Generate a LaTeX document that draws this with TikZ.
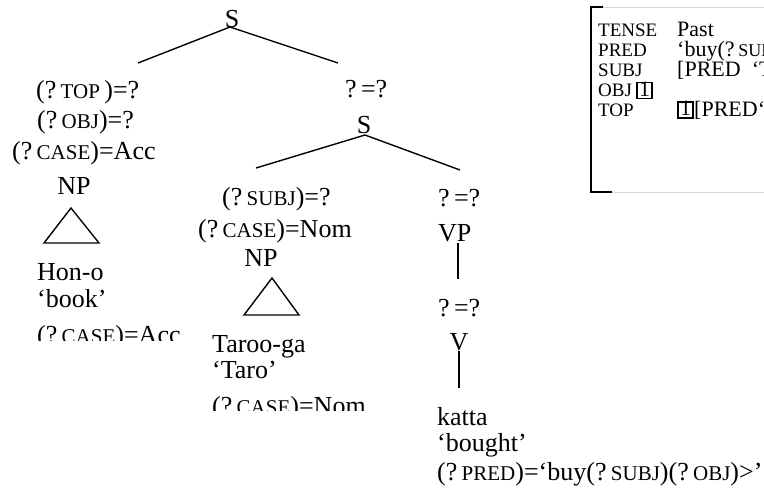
\documentclass[tikz,border=0pt]{standalone}
\usepackage{fontspec}
\setmainfont{Liberation Serif}
% text sizes (1pt = one unit of the drawing)
\newcommand{\treefs}{\fontsize{26}{30}\selectfont}
\newcommand{\sm}[1]{{\fontsize{21}{21}\selectfont #1}}
\newcommand{\avmlab}{\fontsize{19}{20}\selectfont}
\newcommand{\avmval}{\fontsize{22}{20}\selectfont}
\newcommand{\avmsm}[1]{{\fontsize{18}{18}\selectfont #1}}

\begin{document}
\begin{tikzpicture}[x=1pt,y=-1pt,
  lbl/.style={inner sep=0pt, anchor=base west, font=\treefs},
  cat/.style={inner sep=0pt, anchor=base, font=\treefs},
  branch/.style={line width=1.4pt},
  tri/.style={line width=1.4pt, line join=miter},
  alab/.style={inner sep=0pt, anchor=base west, font=\avmlab},
  aval/.style={inner sep=0pt, anchor=base west, font=\avmval},
  tagbox/.style={draw, line width=1.5pt, inner sep=0pt, minimum width=15pt,
                 minimum height=16pt, text height=11pt, text depth=0pt, font=\avmval}]
\useasboundingbox (0,0) rectangle (764,496);

% ---------------- root ----------------
\node[cat] (s1) at (232,27) {S};
\coordinate (s1a) at (230,27);
\coordinate (s1l) at (138,63);
\coordinate (s1r) at (338,63);
\draw[branch] (s1l) -- (s1a) -- (s1r);

% ---------------- fronted object ----------------
\node[lbl] (top)  at (36,98)  {(?\,\sm{TOP}\,)=?};
\node[lbl] (obj)  at (37,128) {(?\,\sm{OBJ})=?};
\node[lbl] (cacc) at (12,159) {(?\,\sm{CASE})=Acc};
\node[cat] (np1)  at (74,194) {NP};
\draw[tri] (71,208) -- (44,243) -- (99,243) -- cycle;
\node[lbl] (hon)  at (37,280) {Hon-o};
\node[lbl] (book) at (37,307) {‘book’};
\begin{scope}
  \clip (0,0) rectangle (200,340);
  \node[lbl] (hcase) at (37,343) {(?\,\sm{CASE})=Acc};
\end{scope}

% ---------------- lower S ----------------
\node[lbl] (eq1) at (345,97) {?\,=?};
\node[cat] (s2)  at (364,133) {S};
\coordinate (s2a) at (365,135);
\coordinate (s2l) at (256,168);
\coordinate (s2r) at (460,170);
\draw[branch] (s2l) -- (s2a) -- (s2r);

% ---------------- subject ----------------
\node[lbl] (subj) at (222,205) {(?\,\sm{SUBJ})=?};
\node[lbl] (cnom) at (198,237) {(?\,\sm{CASE})=Nom};
\node[cat] (np2)  at (261,266) {NP};
\draw[tri] (272,278) -- (244,315) -- (299,315) -- cycle;
\node[lbl] (taroo) at (212,352) {Taroo-ga};
\node[lbl] (taro)  at (212,378) {‘Taro’};
\begin{scope}
  \clip (0,0) rectangle (400,410);
  \node[lbl] (tcase) at (212,414) {(?\,\sm{CASE})=Nom};
\end{scope}

% ---------------- verb phrase ----------------
\node[lbl] (eq2) at (438,206) {?\,=?};
\node[lbl] (vp)  at (438,241) {VP};
\coordinate (vpb) at (458,243);
\coordinate (eq3t) at (458,279);
\draw[branch] (vpb) -- (eq3t);
\node[lbl] (eq3) at (438,316) {?\,=?};
\node[cat] (v)   at (459,350) {V};
\coordinate (vb) at (459,351);
\coordinate (kt) at (459,388);
\draw[branch] (vb) -- (kt);
\node[lbl] (katta)  at (437,425) {katta};
\node[lbl] (bought) at (437,451) {‘bought’};
\node[lbl] (pred)   at (437,480) {(?\,\sm{PRED})=‘buy(?\,\sm{SUBJ})(?\,\sm{OBJ})>’};

% ---------------- f-structure ----------------
\begin{scope}
  \clip (0,0) rectangle (764,496);
  \draw[gray!30, line width=0.8pt] (591,7) rectangle (790,192);
  \draw[line width=1.6pt] (603,7) -- (591,7) -- (591,192) -- (612,192);
  \node[alab] (ftense) at (598,36)  {TENSE};
  \node[aval] (fpast)  at (677,36)  {Past};
  \node[alab] (fpred)  at (598,56)  {PRED};
  \node[aval] (fbuy)   at (677,56)  {‘buy(?\,\avmsm{SUBJ})(?\,\avmsm{OBJ})’};
  \node[alab] (fsubj)  at (598,76)  {SUBJ};
  \node[aval] (fsv)    at (677,76)  {[PRED\ \ ‘Taro’]};
  \node[alab] (fobj)   at (598,96)  {OBJ};
  \node[tagbox] (tag1) at (644.5,90.5) {1};
  \node[alab] (ftop)   at (598,116) {TOP};
  \node[tagbox] (tag2) at (685.5,110) {1};
  \node[aval] (ftv) at (694,116) {[PRED‘book’]};
\end{scope}
\end{tikzpicture}
\end{document}
